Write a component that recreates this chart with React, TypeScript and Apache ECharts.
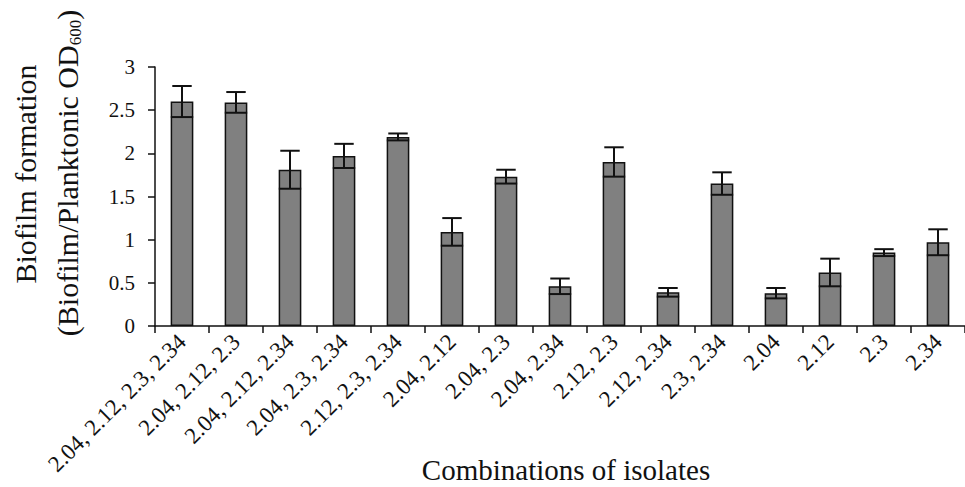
import React, { useEffect, useRef } from "react";
import * as echarts from "echarts";

const categories = [
  "2.04, 2.12, 2.3, 2.34",
  "2.04, 2.12, 2.3",
  "2.04, 2.12, 2.34",
  "2.04, 2.3, 2.34",
  "2.12, 2.3, 2.34",
  "2.04, 2.12",
  "2.04, 2.3",
  "2.04, 2.34",
  "2.12, 2.3",
  "2.12, 2.34",
  "2.3, 2.34",
  "2.04",
  "2.12",
  "2.3",
  "2.34",
];
const values = [2.6, 2.59, 1.81, 1.97, 2.19, 1.09, 1.73, 0.46, 1.9, 0.39, 1.65, 0.38, 0.62, 0.85, 0.97];
const errors = [0.18, 0.12, 0.22, 0.14, 0.04, 0.16, 0.08, 0.09, 0.17, 0.05, 0.13, 0.06, 0.16, 0.04, 0.15];
const yTicks = { min: 0, max: 3, interval: 0.5 };

const FONT = "Liberation Serif";

export default function App() {
  const ref = useRef<HTMLDivElement>(null);
  useEffect(() => {
    if (!ref.current) return;
    const chart = echarts.init(ref.current, undefined, { renderer: "svg" });
    const errData = values.map((v, i) => [i, v, errors[i]]);
    chart.setOption({
      animation: false,
      backgroundColor: "#ffffff",
      textStyle: { fontFamily: FONT },
      grid: { left: 155, top: 67, width: 816, bottom: 161, containLabel: false },
      xAxis: {
        type: "category",
        data: categories,
        boundaryGap: true,
        axisLine: { lineStyle: { color: "#111", width: 1.5 } },
        axisTick: { show: true, length: 7, lineStyle: { color: "#111", width: 1.5 } },
        axisLabel: {
          rotate: 45,
          margin: 12,
          color: "#111",
          fontFamily: FONT,
          fontSize: 23,
          interval: 0,
        },
      },
      yAxis: {
        type: "value",
        min: yTicks.min,
        max: yTicks.max,
        interval: yTicks.interval,
        splitLine: { show: false },
        axisLine: { show: true, lineStyle: { color: "#111", width: 1.5 } },
        axisTick: { show: true, length: 7, lineStyle: { color: "#111", width: 1.5 } },
        axisLabel: { color: "#111", fontFamily: FONT, fontSize: 21, margin: 20 },
      },
      graphic: [
        {
          type: "text",
          x: 25,
          y: 174,
          rotation: Math.PI / 2,
          style: {
            text: "Biofilm formation",
            fontFamily: FONT,
            fontSize: 30,
            fill: "#111",
            align: "center",
            verticalAlign: "middle",
          },
        },
        {
          type: "text",
          x: 67,
          y: 173,
          rotation: Math.PI / 2,
          style: {
            text: "{a|(Biofilm/Planktonic OD}{s|600}{a|)}",
            fill: "#111",
            align: "center",
            verticalAlign: "middle",
            rich: {
              a: { fontFamily: FONT, fontSize: 30, lineHeight: 34, fill: "#111" },
              s: { fontFamily: FONT, fontSize: 17, lineHeight: 34, fill: "#111", verticalAlign: "bottom" },
            },
          },
        },
        {
          type: "text",
          x: 566,
          y: 470,
          style: {
            text: "Combinations of isolates",
            fontFamily: FONT,
            fontSize: 29,
            fill: "#111",
            align: "center",
            verticalAlign: "middle",
          },
        },
      ],
      series: [
        {
          type: "bar",
          data: values,
          barWidth: "42%",
          itemStyle: { color: "#808080", borderColor: "#111", borderWidth: 1.5 },
        },
        {
          type: "custom",
          data: errData,
          encode: { x: 0, y: 1 },
          z: 10,
          renderItem: (params: any, api: any) => {
            const i = api.value(0);
            const v = api.value(1);
            const e = api.value(2);
            const top = api.coord([i, v + e]);
            const bot = api.coord([i, v - e]);
            const half = api.size([1, 0])[0] * 0.18;
            const st = { stroke: "#111", lineWidth: 2 };
            return {
              type: "group",
              children: [
                { type: "line", shape: { x1: top[0], y1: top[1], x2: bot[0], y2: bot[1] }, style: st },
                { type: "line", shape: { x1: top[0] - half, y1: top[1], x2: top[0] + half, y2: top[1] }, style: st },
                { type: "line", shape: { x1: bot[0] - half * 1.15, y1: bot[1], x2: bot[0] + half * 1.15, y2: bot[1] }, style: st },
              ],
            };
          },
        },
      ],
    });
    return () => chart.dispose();
  }, []);
  return <div ref={ref} style={{ position: "fixed", left: 0, top: 0, width: 965, height: 487 }} />;
}
